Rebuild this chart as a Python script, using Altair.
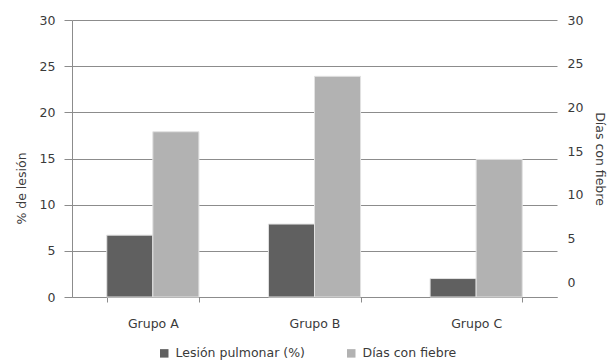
import altair as alt
import pandas as pd

grupos = ["Grupo A", "Grupo B", "Grupo C"]
series = ["Lesión pulmonar (%)", "Días con fiebre"]
lesion = [6.7, 7.9, 2.0]
fiebre = [17.9, 23.9, 14.9]
ticks_y = [0, 5, 10, 15, 20, 25, 30]

rows = []
for g, l, f in zip(grupos, lesion, fiebre):
    rows.append({"grupo": g, "serie": series[0], "valor": l})
    rows.append({"grupo": g, "serie": series[1], "valor": f})
df = pd.DataFrame(rows)
df_f = pd.DataFrame({"grupo": grupos, "fiebre": fiebre})

FONT = "DejaVu Sans"
FS = 12.5
TXT = "#3a3a3a"
GRID = "#8c8c8c"

xenc = alt.X(
    "grupo:N",
    sort=grupos,
    scale=alt.Scale(paddingInner=0.43, paddingOuter=0.215),
    axis=alt.Axis(
        title=None, labelAngle=0, tickBand="extent", tickSize=5,
        labelPadding=15, domainColor=GRID, tickColor=GRID,
        labelColor=TXT, labelFont=FONT, labelFontSize=FS,
    ),
)

bars = alt.Chart(df).mark_bar(stroke="#e2e2e2", strokeWidth=1).encode(
    x=xenc,
    xOffset=alt.XOffset("serie:N", sort=series),
    y=alt.Y(
        "valor:Q",
        scale=alt.Scale(domain=[0, 30], nice=False),
        axis=alt.Axis(
            orient="left", values=ticks_y, title="% de lesión", grid=True,
            gridColor=GRID, domainColor=GRID, tickColor=GRID, tickSize=8,
            labelPadding=9, titlePadding=11, titleY=168,
            labelColor=TXT, titleColor=TXT,
            labelFont=FONT, titleFont=FONT, labelFontSize=FS, titleFontSize=FS,
            titleFontWeight="normal",
        ),
    ),
    color=alt.Color(
        "serie:N",
        sort=series,
        scale=alt.Scale(domain=series, range=["#606060", "#b2b2b2"]),
        legend=alt.Legend(
            orient="none", legendX=86, legendY=327,
            direction="horizontal", title=None,
            symbolType="square", symbolSize=72, symbolStrokeWidth=0,
            labelFont=FONT, labelFontSize=FS, labelColor=TXT,
            columnPadding=40, labelOffset=5,
        ),
    ),
)

right = alt.Chart(df_f).mark_bar(opacity=0).encode(
    x=xenc,
    y=alt.Y(
        "fiebre:Q",
        scale=alt.Scale(domain=[0, 30], nice=False),
        axis=alt.Axis(
            orient="right", values=ticks_y, title="Días con fiebre", grid=False,
            domain=False, ticks=False, labelPadding=10, titlePadding=10,
            titleAngle=90, labelOffset={"expr": "-(30 - datum.value) / 2"},
            labelColor=TXT, titleColor=TXT, labelFont=FONT, titleFont=FONT,
            labelFontSize=FS, titleFontSize=FS, titleFontWeight="normal",
        ),
    ),
)

chart = (
    alt.layer(bars, right)
    .resolve_scale(y="independent")
    .properties(
        width=485, height=277,
        autosize=alt.AutoSizeParams(type="none"),
        padding={"left": 72, "top": 20, "right": 56, "bottom": 66},
        background="white",
    )
    .configure_view(stroke=None)
)

chart.save("out.html", embed_options={"renderer": "svg", "actions": False})
